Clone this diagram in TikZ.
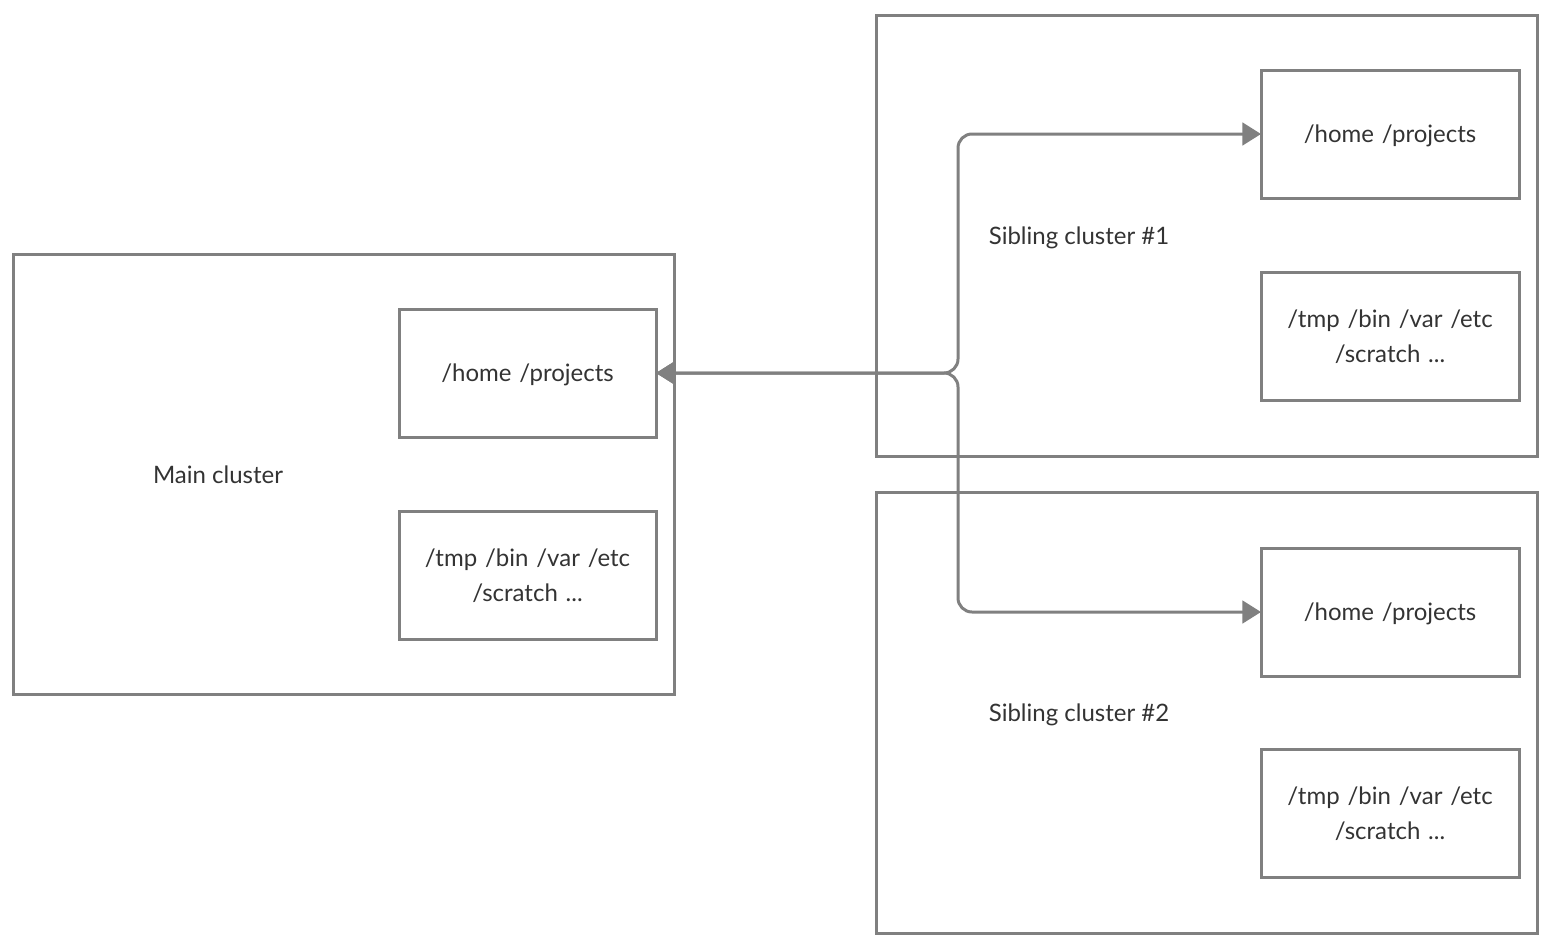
\documentclass[tikz,border=0pt]{standalone}
\usepackage{fontspec}
\setmainfont{Lato}
\usetikzlibrary{arrows.meta}
\definecolor{linegray}{HTML}{808080}
\definecolor{textgray}{HTML}{333333}
\newcommand{\gp}{\hspace{0.07em} }
\tikzset{
  box/.style={draw=linegray, line width=2.25pt, rectangle, anchor=north west, inner sep=0pt, outer sep=0pt, text=textgray, align=center, text depth=0pt, font=\fontsize{18}{26.25}\selectfont},
  lbl/.style={text=textgray, font=\fontsize{18}{26.25}\selectfont, inner sep=0pt, text depth=0pt},
  conn/.style={draw=linegray, line width=2.25pt, rounded corners=10.5pt, arrows={Triangle[length=14pt,width=17pt]-Triangle[length=14pt,width=17pt]}}
}
\begin{document}
\begin{tikzpicture}[x=0.75pt,y=-0.75pt]
\useasboundingbox (0,0) rectangle (1548,946);
% clusters
\node[box, minimum width=661*0.75pt, minimum height=440*0.75pt] (main) at (13,254) {};
\node[box, minimum width=661*0.75pt, minimum height=441*0.75pt] (sib1) at (876,15) {};
\node[box, minimum width=661*0.75pt, minimum height=441*0.75pt] (sib2) at (876,492) {};
% inner boxes
\node[box, minimum width=257*0.75pt, minimum height=128*0.75pt] (mainhome) at (399,309) {/home\gp/projects};
\node[box, minimum width=257*0.75pt, minimum height=128*0.75pt] (maintmp) at (399,511) {/tmp\gp/bin\gp/var\gp/etc\\/scratch\gp...};
\node[box, minimum width=258*0.75pt, minimum height=128*0.75pt] (s1home) at (1261,70) {/home\gp/projects};
\node[box, minimum width=258*0.75pt, minimum height=128*0.75pt] (s1tmp) at (1261,272) {/tmp\gp/bin\gp/var\gp/etc\\/scratch\gp...};
\node[box, minimum width=258*0.75pt, minimum height=128*0.75pt] (s2home) at (1261,548) {/home\gp/projects};
\node[box, minimum width=258*0.75pt, minimum height=128*0.75pt] (s2tmp) at (1261,749) {/tmp\gp/bin\gp/var\gp/etc\\/scratch\gp...};
% labels
\node[lbl] (mainlbl) at (218,475) {Main cluster};
\node[lbl] (s1lbl) at (1079,236) {Sibling cluster \#1};
\node[lbl] (s2lbl) at (1079,713) {Sibling cluster \#2};
% connectors
\coordinate (jx) at (958,0);
\path[conn] (mainhome.east) -- (mainhome.east -| jx) |- (s1home.west);
\path[conn] (mainhome.east) -- (mainhome.east -| jx) |- (s2home.west);
\end{tikzpicture}
\end{document}
